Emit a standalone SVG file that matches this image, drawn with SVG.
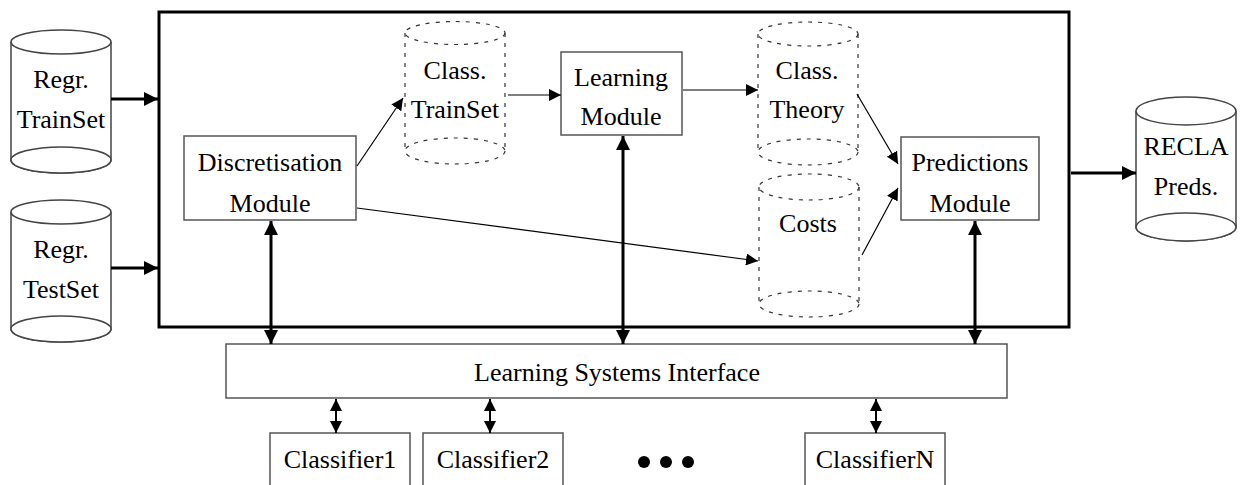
<svg xmlns="http://www.w3.org/2000/svg" width="1242" height="485" viewBox="0 0 1242 485">
<style>
text{font-family:"Liberation Serif","Times New Roman",serif;font-size:26px;fill:#000;text-anchor:middle}
.box{fill:#fff;stroke:#555;stroke-width:1.5}
.cyl{fill:#fff;stroke:#444;stroke-width:1.5}
.dcyl{fill:none;stroke:#333;stroke-width:1.2;stroke-dasharray:4 6}
.thin{fill:none;stroke:#000;stroke-width:1.2;marker-end:url(#ah)}
.thick{fill:none;stroke:#000;stroke-width:3;marker-end:url(#AH)}
.dbl{fill:none;stroke:#000;stroke-width:3;marker-start:url(#AH);marker-end:url(#AH)}
.dblm{fill:none;stroke:#000;stroke-width:2;marker-start:url(#AM);marker-end:url(#AM)}
</style>
<defs>
<marker id="ah" markerUnits="userSpaceOnUse" markerWidth="14" markerHeight="12" refX="12" refY="6" orient="auto-start-reverse"><path d="M0,0 L12,6 L0,12 Z" fill="#000"/></marker>
<marker id="AH" markerUnits="userSpaceOnUse" markerWidth="16" markerHeight="14" refX="14" refY="7" orient="auto-start-reverse"><path d="M0,0 L14,7 L0,14 Z" fill="#000"/></marker>
<marker id="AM" markerUnits="userSpaceOnUse" markerWidth="14" markerHeight="12" refX="12" refY="6" orient="auto-start-reverse"><path d="M0,0 L12,6 L0,12 Z" fill="#000"/></marker>
</defs>
<rect width="1242" height="485" fill="#fff"/>

<g id="system">
<rect x="159" y="12" width="910" height="315" fill="none" stroke="#000" stroke-width="3"/>
</g>

<g id="regr-trainset">
<path class="cyl" d="M11,42 L11,160 A50,13 0 0 0 111,160 L111,42"/>
<ellipse class="cyl" cx="61" cy="160" rx="50" ry="13"/>
<ellipse class="cyl" cx="61" cy="42" rx="50" ry="12"/>
<text x="61" y="88">Regr.</text>
<text x="61" y="128">TrainSet</text>
</g>

<g id="regr-testset">
<path class="cyl" d="M11,212 L11,329 A50,13 0 0 0 111,329 L111,212"/>
<ellipse class="cyl" cx="61" cy="329" rx="50" ry="13"/>
<ellipse class="cyl" cx="61" cy="212" rx="50" ry="12"/>
<text x="61" y="258">Regr.</text>
<text x="61" y="298">TestSet</text>
</g>

<g id="discretisation">
<rect class="box" x="184" y="136" width="172" height="84"/>
<text x="270" y="171">Discretisation</text>
<text x="270" y="212">Module</text>
</g>

<g id="class-trainset">
<ellipse class="dcyl" cx="455" cy="33" rx="50" ry="11.5"/>
<ellipse class="dcyl" cx="455" cy="151" rx="50" ry="13"/>
<path class="dcyl" d="M405,33 L405,151 M505,33 L505,151"/>
<text x="455" y="79">Class.</text>
<text x="455" y="118">TrainSet</text>
</g>

<g id="learning">
<rect class="box" x="561" y="52" width="121" height="83"/>
<text x="621" y="86">Learning</text>
<text x="621" y="125">Module</text>
</g>

<g id="class-theory">
<ellipse class="dcyl" cx="808" cy="34" rx="50" ry="12"/>
<ellipse class="dcyl" cx="808" cy="152" rx="50" ry="13"/>
<path class="dcyl" d="M758,34 L758,152 M858,34 L858,152"/>
<text x="807" y="79">Class.</text>
<text x="807" y="118">Theory</text>
</g>

<g id="costs">
<ellipse class="dcyl" cx="809" cy="187" rx="50" ry="13"/>
<ellipse class="dcyl" cx="809" cy="304" rx="50" ry="13"/>
<path class="dcyl" d="M759,187 L759,304 M859,187 L859,304"/>
<text x="808" y="232">Costs</text>
</g>

<g id="predictions">
<rect class="box" x="901" y="137" width="138" height="83"/>
<text x="970" y="171">Predictions</text>
<text x="970" y="212">Module</text>
</g>

<g id="recla-preds">
<path class="cyl" d="M1136,111 L1136,227 A50,14 0 0 0 1236,227 L1236,111"/>
<ellipse class="cyl" cx="1186" cy="227" rx="50" ry="14"/>
<ellipse class="cyl" cx="1186" cy="111" rx="50" ry="14"/>
<text x="1186" y="155">RECLA</text>
<text x="1186" y="195">Preds.</text>
</g>

<g id="interface">
<rect class="box" x="226" y="344" width="781" height="54"/>
<text x="617" y="381">Learning Systems Interface</text>
</g>

<g id="classifier1">
<rect class="box" x="270" y="433" width="140" height="60"/>
<text x="340" y="468">Classifier1</text>
</g>
<g id="classifier2">
<rect class="box" x="423" y="433" width="140" height="60"/>
<text x="493" y="468">Classifier2</text>
</g>
<g id="ellipsis">
<circle cx="644" cy="462" r="6"/>
<circle cx="666" cy="462" r="6"/>
<circle cx="688" cy="462" r="6"/>
</g>
<g id="classifierN">
<rect class="box" x="805" y="433" width="140" height="60"/>
<text x="875" y="468">ClassifierN</text>
</g>

<g id="connectors">
<path class="thick" d="M111,99 L158,99"/>
<path class="thick" d="M111,268 L158,268"/>
<path class="thick" d="M1071,173 L1136,173"/>
<path class="thin" d="M357,166 L403,98"/>
<path class="thin" d="M508,95 L561,95"/>
<path class="thin" d="M683,90 L758,90"/>
<path class="thin" d="M357,208 L758,261"/>
<path class="thin" d="M857,94 L898,164"/>
<path class="thin" d="M862,255 L898,188"/>
<path class="dbl" d="M271,221 L271,344"/>
<path class="dbl" d="M623,136 L623,344"/>
<path class="dbl" d="M975,221 L975,344"/>
<path class="dblm" d="M336,399 L336,433"/>
<path class="dblm" d="M490,399 L490,433"/>
<path class="dblm" d="M876,399 L876,433"/>
</g>
</svg>
